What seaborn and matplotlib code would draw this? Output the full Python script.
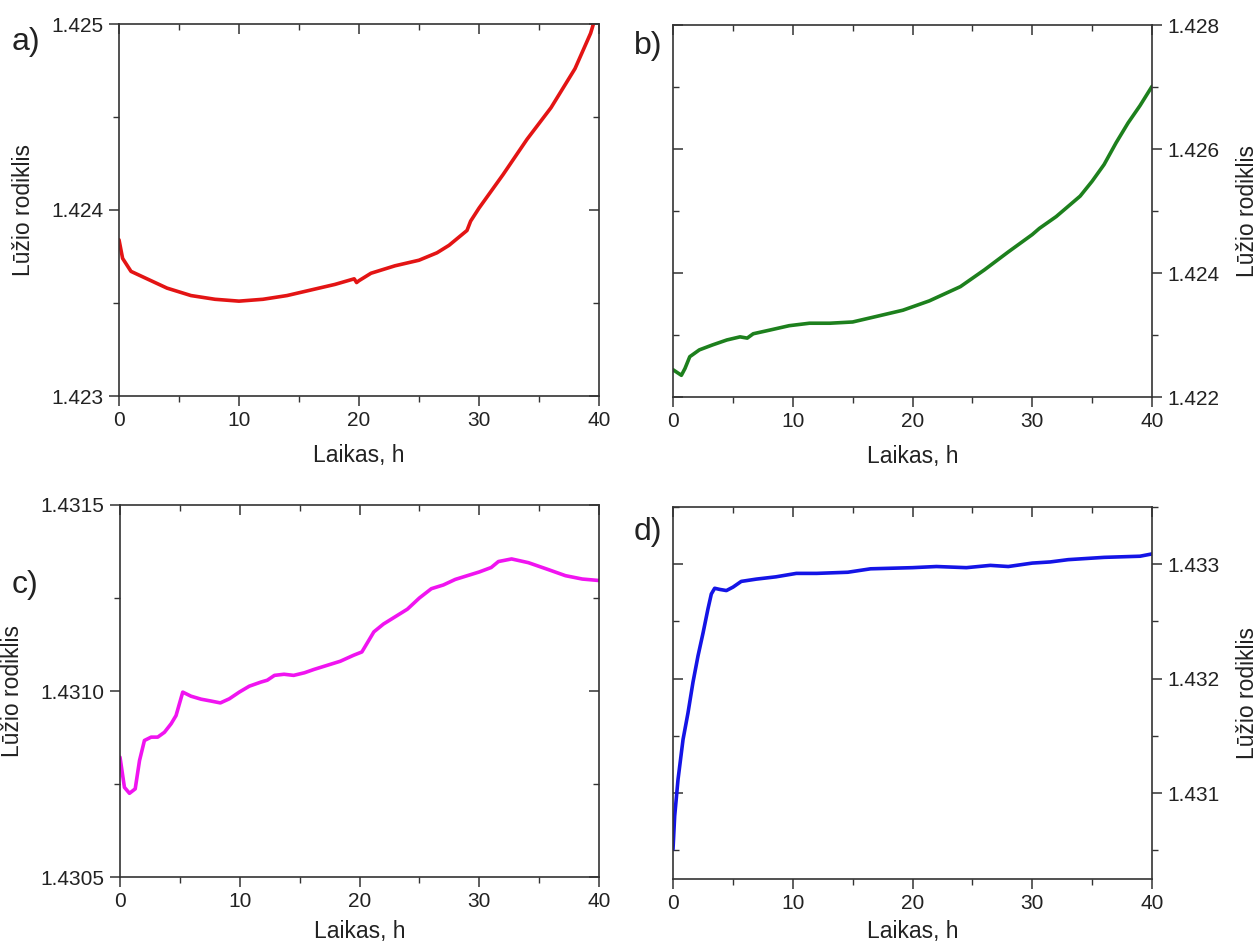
import numpy as np
import pandas as pd
import matplotlib
matplotlib.use("Agg")
import matplotlib.pyplot as plt
from matplotlib.ticker import MultipleLocator, FormatStrFormatter
import seaborn as sns

# ---------------- data ----------------
a_time = [0, 0.3, 1, 2, 4, 6, 8, 10, 12, 14, 16, 18, 19.6, 19.8, 20, 21, 23, 25, 26.5,
          27.5, 29, 29.3, 30, 32, 34, 36, 38, 39.3, 40]
a_ri = [1.42384, 1.42374, 1.42367, 1.42364, 1.42358, 1.42354, 1.42352, 1.42351, 1.42352,
        1.42354, 1.42357, 1.42360, 1.42363, 1.42361, 1.42362, 1.42366, 1.42370, 1.42373,
        1.42377, 1.42381, 1.42389, 1.42394, 1.42401, 1.42419, 1.42438, 1.42455, 1.42476,
        1.42495, 1.42510]

b_time = [0, 0.7, 1.0, 1.4, 2.2, 3.3, 4.5, 5.6, 6.2, 6.7, 8.1, 9.7, 11.4, 13.1, 15.0,
          17.0, 19.2, 21.4, 24, 26, 28, 30, 30.6, 32, 34, 35, 36, 37, 38, 39, 40]
b_ri = [1.42244, 1.42235, 1.42246, 1.42265, 1.42276, 1.42284, 1.42292, 1.42297, 1.42295,
        1.42302, 1.42308, 1.42315, 1.42319, 1.42319, 1.42321, 1.42330, 1.42340, 1.42355,
        1.42378, 1.42405, 1.42434, 1.42462, 1.42472, 1.42491, 1.42524, 1.42548, 1.42575,
        1.42610, 1.42642, 1.42670, 1.42701]

c_time = [0, 0.37, 0.79, 1.27, 1.63, 2.04, 2.6, 3.15, 3.71, 4.27, 4.68, 5.24, 5.93, 6.77,
          7.6, 8.38, 9.13, 9.96, 10.8, 11.77, 12.3, 12.9, 13.7, 14.5, 15.4, 16.2, 17.3,
          18.4, 19.5, 20.2, 21.2, 22, 23, 24, 25, 26, 27, 28, 29, 30, 31, 31.6, 32.7, 34.1,
          35.8, 37.2, 38.6, 40]
c_ri = [1.430822, 1.430741, 1.430725, 1.430737, 1.430813, 1.430867, 1.430876, 1.430876,
        1.430889, 1.430912, 1.430934, 1.430997, 1.430986, 1.430978, 1.430973, 1.430968,
        1.430979, 1.430997, 1.431013, 1.431024, 1.431029, 1.431042, 1.431045, 1.431042,
        1.431049, 1.431058, 1.431069, 1.431080, 1.431096, 1.431105, 1.431159, 1.431180,
        1.431200, 1.431220, 1.431250, 1.431275, 1.431285, 1.431300, 1.431310, 1.431320,
        1.431332, 1.431348, 1.431355, 1.431345, 1.431326, 1.431310, 1.431301, 1.431297]

d_time = [0, 0.14, 0.42, 0.84, 1.25, 1.67, 2.09, 2.51, 2.92, 3.2, 3.48, 3.9, 4.46, 5.01,
          5.7, 6.96, 8.6, 10.3, 12.0, 14.6, 16.5, 20, 22, 24.5, 26.5, 28, 30, 31.5, 33, 36,
          39, 40]
d_ri = [1.43051, 1.43080, 1.43112, 1.43147, 1.43170, 1.43197, 1.43220, 1.43240, 1.43261,
        1.43274, 1.43279, 1.43278, 1.43277, 1.43280, 1.43285, 1.43287, 1.43289, 1.43292,
        1.43292, 1.43293, 1.43296, 1.43297, 1.43298, 1.43297, 1.43299, 1.43298, 1.43301,
        1.43302, 1.43304, 1.43306, 1.43307, 1.43309]

panels = ["a)", "b)", "c)", "d)"]
x_label = "Laikas, h"
y_label = "Lūžio rodiklis"

# ---------------- style ----------------
sns.set_theme(style="ticks")
plt.rcParams["font.family"] = ["Liberation Sans", "DejaVu Sans"]
plt.rcParams["axes.linewidth"] = 1.2
plt.rcParams["axes.edgecolor"] = "#333333"
plt.rcParams["text.color"] = "#222222"
plt.rcParams["axes.labelcolor"] = "#222222"
plt.rcParams["xtick.color"] = "#333333"
plt.rcParams["ytick.color"] = "#333333"
plt.rcParams["xtick.labelcolor"] = "#222222"
plt.rcParams["ytick.labelcolor"] = "#222222"

W, H = 1260, 947
fig = plt.figure(figsize=(W / 100, H / 100), dpi=100)


def rect(l, r, t, b):
    return [l / W, 1 - b / H, (r - l) / W, (b - t) / H]


specs = [
    dict(pos=rect(119, 599, 24, 396), t=a_time, v=a_ri, color="#e31414", ylim=(1.423, 1.425),
         major=0.001, minor=0.0005, fmt="%.3f", right=False, xpad=10),
    dict(pos=rect(673, 1152, 25, 397), t=b_time, v=b_ri, color="#1d801d", ylim=(1.422, 1.428),
         major=0.002, minor=0.001, fmt="%.3f", right=True, xpad=10),
    dict(pos=rect(120, 599, 505, 877), t=c_time, v=c_ri, color="#f014f0", ylim=(1.4305, 1.4315),
         major=0.0005, minor=0.00025, fmt="%.4f", right=False, xpad=6),
    dict(pos=rect(673, 1152, 507, 879), t=d_time, v=d_ri, color="#1414e6", ylim=(1.43025, 1.4335),
         major=0.001, minor=0.0005, fmt="%.3f", right=True, xpad=5),
]

tick_fs = 15
label_fs = 16.5

for letter, s in zip(panels, specs):
    ax = fig.add_axes(s["pos"])
    df = pd.DataFrame({"t": s["t"], "n": s["v"]})
    sns.lineplot(data=df, x="t", y="n", ax=ax, color=s["color"], linewidth=2.6,
                 estimator=None, sort=False)
    ax.set_xlim(0, 40)
    ax.set_ylim(*s["ylim"])
    for sp in ax.spines.values():
        sp.set_visible(True)
    ax.xaxis.set_major_locator(MultipleLocator(10))
    ax.xaxis.set_minor_locator(MultipleLocator(5))
    ax.yaxis.set_major_locator(MultipleLocator(s["major"]))
    ax.yaxis.set_minor_locator(MultipleLocator(s["minor"]))
    ax.yaxis.set_major_formatter(FormatStrFormatter(s["fmt"]))
    ax.tick_params(axis="both", which="major", direction="out", length=7, width=1.1,
                   labelsize=tick_fs, pad=4)
    ax.tick_params(axis="both", which="minor", direction="out", length=4, width=1.0)
    ax.set_xlabel(x_label, fontsize=label_fs, labelpad=s["xpad"])

    # mirrored ticks pointing inward on the opposite sides
    top = ax.secondary_xaxis("top")
    top.xaxis.set_major_locator(MultipleLocator(10))
    top.xaxis.set_minor_locator(MultipleLocator(5))
    top.tick_params(axis="x", which="major", direction="in", length=7, width=1.1, labeltop=False)
    top.tick_params(axis="x", which="minor", direction="in", length=4, width=1.0)
    top.spines["top"].set_visible(False)

    if s["right"]:
        ax.yaxis.tick_right()
        ax.yaxis.set_label_position("right")
        ax.set_ylabel(y_label, fontsize=label_fs, labelpad=12, rotation=90)
        other = ax.secondary_yaxis("left")
        other.spines["left"].set_visible(False)
        side_kw = dict(labelleft=False)
    else:
        ax.set_ylabel(y_label, fontsize=label_fs, labelpad=12)
        other = ax.secondary_yaxis("right")
        other.spines["right"].set_visible(False)
        side_kw = dict(labelright=False)
    other.yaxis.set_major_locator(MultipleLocator(s["major"]))
    other.yaxis.set_minor_locator(MultipleLocator(s["minor"]))
    other.tick_params(axis="y", which="major", direction="in", length=7, width=1.1, **side_kw)
    other.tick_params(axis="y", which="minor", direction="in", length=4, width=1.0)
    other.yaxis.set_major_formatter(plt.NullFormatter())

# panel letters
fig.text(12 / W, 1 - 42 / H, "a)", fontsize=23, va="center", ha="left")
fig.text(634 / W, 1 - 46 / H, "b)", fontsize=23, va="center", ha="left")
fig.text(12 / W, 1 - 585 / H, "c)", fontsize=23, va="center", ha="left")
fig.text(634 / W, 1 - 532 / H, "d)", fontsize=23, va="center", ha="left")

fig.savefig("out.png", dpi=100, facecolor="white")
